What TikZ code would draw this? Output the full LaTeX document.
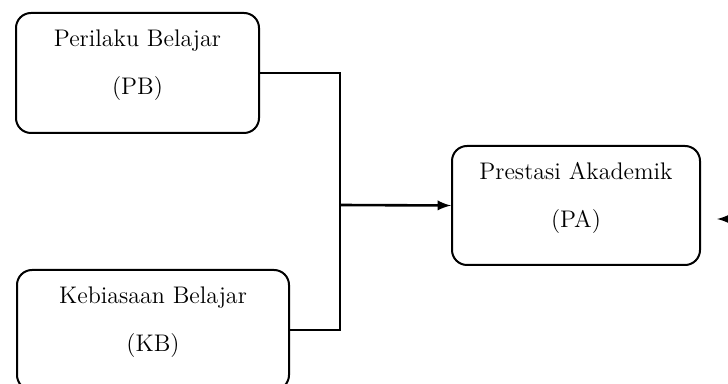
\documentclass[tikz,border=0pt]{standalone}
\usepackage{amsmath}
\usepackage{tikz}
\usetikzlibrary{positioning}

\begin{document}
\begin{tikzpicture}[x=0.5pt, y=-0.5pt,
    kotak/.style={draw, rounded corners=7.5pt, line width=1pt, align=center,
                  font=\fontsize{12}{24}\selectfont, text depth=10.5pt},
    panah/.style={line width=1.3pt}]
            \useasboundingbox (0,0) rectangle (728,384);
            % Kotak
            \node[kotak, minimum width=121.5pt, minimum height=60pt] (PB) at (137.5,73) {Perilaku Belajar\\(PB)};
            \node[kotak, minimum width=136pt, minimum height=60pt] (KB) at (153,330) {Kebiasaan Belajar\\(KB)};
            \node[kotak, minimum width=124pt, minimum height=59.5pt] (PA) at (576,205.5) {Prestasi Akademik\\(PA)};
            \coordinate (j) at (340,205);
            \coordinate (luar) at (745,219);
            \coordinate (ujung) at (717,219);

            % Panah
            \draw[panah] (PB.east) -| (j);
            \draw[panah] (KB.east) -| (j);
            \draw[panah, -latex] (j) -- (PA.west);
            \draw[panah, -latex] (luar) -- (ujung);
          \end{tikzpicture}
\end{document}
